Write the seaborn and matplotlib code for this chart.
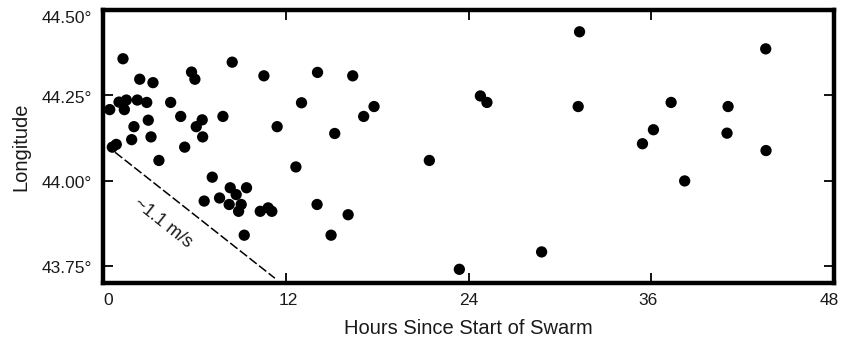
import matplotlib
matplotlib.use("Agg")
import matplotlib.pyplot as plt
import matplotlib.transforms as mtransforms
import seaborn as sns
import pandas as pd

hours = [31.28, 43.5, 24.77, 25.2, 31.19, 37.29, 41.03, 36.13, 35.41, 40.96, 43.52,
         21.42, 38.18, 28.79, 23.39,
         8.48, 10.56, 14.08, 16.39, 13.03, 17.79, 17.11, 7.87, 11.43, 15.21, 12.66,
         7.17, 8.35, 9.42, 8.74, 6.64, 7.65, 8.28, 9.07, 8.9, 10.32, 10.84, 11.08,
         14.05, 16.09, 9.27, 14.97,
         1.31, 5.81, 6.03, 2.41, 3.28, 0.44, 1.05, 1.53, 1.4, 2.25, 2.87, 4.44, 5.1,
         2.97, 2.03, 3.15, 1.88, 6.51, 6.12, 6.54, 5.36, 0.61, 0.87, 3.67]
lat = [44.436, 44.386, 44.248, 44.229, 44.217, 44.229, 44.217, 44.149, 44.108, 44.139, 44.088,
       44.059, 43.999, 43.791, 43.74,
       44.347, 44.307, 44.317, 44.307, 44.228, 44.217, 44.188, 44.188, 44.158, 44.138, 44.04,
       44.01, 43.979, 43.979, 43.959, 43.94, 43.949, 43.93, 43.93, 43.91, 43.91, 43.92, 43.91,
       43.93, 43.90, 43.84, 43.84,
       44.357, 44.318, 44.297, 44.297, 44.287, 44.208, 44.23, 44.236, 44.208, 44.236, 44.229,
       44.229, 44.188, 44.177, 44.158, 44.128, 44.12, 44.178, 44.158, 44.128, 44.098, 44.098,
       44.106, 44.059]

line_x = [0.79, 11.28]
line_y = [44.083, 43.714]

x_ticks = [0, 12, 24, 36, 48]
y_ticks = [43.75, 44.00, 44.25, 44.50]
y_tick_labels = ["43.75°", "44.00°", "44.25°", "44.50°"]

sns.set_style("ticks")
plt.rcParams['font.family'] = ['Liberation Sans', 'DejaVu Sans']

fig = plt.figure(figsize=(8.41, 3.43), dpi=100)
ax = fig.add_axes([0.1225, 0.175, 0.992 - 0.1225, 0.971 - 0.175])

df = pd.DataFrame({"hours": hours, "lat": lat})
sns.scatterplot(data=df, x="hours", y="lat", ax=ax, color="black", s=66,
                edgecolor="none", linewidth=0, zorder=3)

ax.plot(line_x, line_y, color="black", lw=1.1, linestyle=(0, (6, 2)), zorder=2)
ax.text(3.95, 43.875, "~1.1 m/s", rotation=-38.5, ha="center", va="center",
        fontsize=13, color="#1a1a1a")

ax.set_xlim(0, 48)
ax.set_ylim(43.70, 44.50)
ax.set_xticks(x_ticks)
ax.set_yticks(y_ticks)
ax.set_yticklabels(y_tick_labels)

for s in ax.spines.values():
    s.set_linewidth(3.2)
    s.set_color("black")
    s.set_visible(True)
ax.tick_params(direction="in", length=7, width=1.3, top=True, right=True,
               labelsize=12.5, colors="black", labelcolor="#1a1a1a", pad=7)
ax.tick_params(axis="y", pad=8)

# small nudges of tick labels as in the reference
nudges_px = [5, 2, 0, -3, -5]
for lab, dx in zip(ax.get_xticklabels(), nudges_px):
    lab.set_transform(lab.get_transform() +
                      mtransforms.ScaledTranslation(dx / 100, 0, fig.dpi_scale_trans))
y_nudges_px = [-1.5, -1.5, -1.5, -7.5]
for lab, dy in zip(ax.get_yticklabels(), y_nudges_px):
    lab.set_transform(lab.get_transform() +
                      mtransforms.ScaledTranslation(0, dy / 100, fig.dpi_scale_trans))

ax.set_xlabel("Hours Since Start of Swarm", fontsize=14.5, labelpad=8, color="#1a1a1a")
ax.set_ylabel("Longitude", fontsize=14.5, labelpad=8, color="#1a1a1a")

fig.savefig("out.png", dpi=100)
